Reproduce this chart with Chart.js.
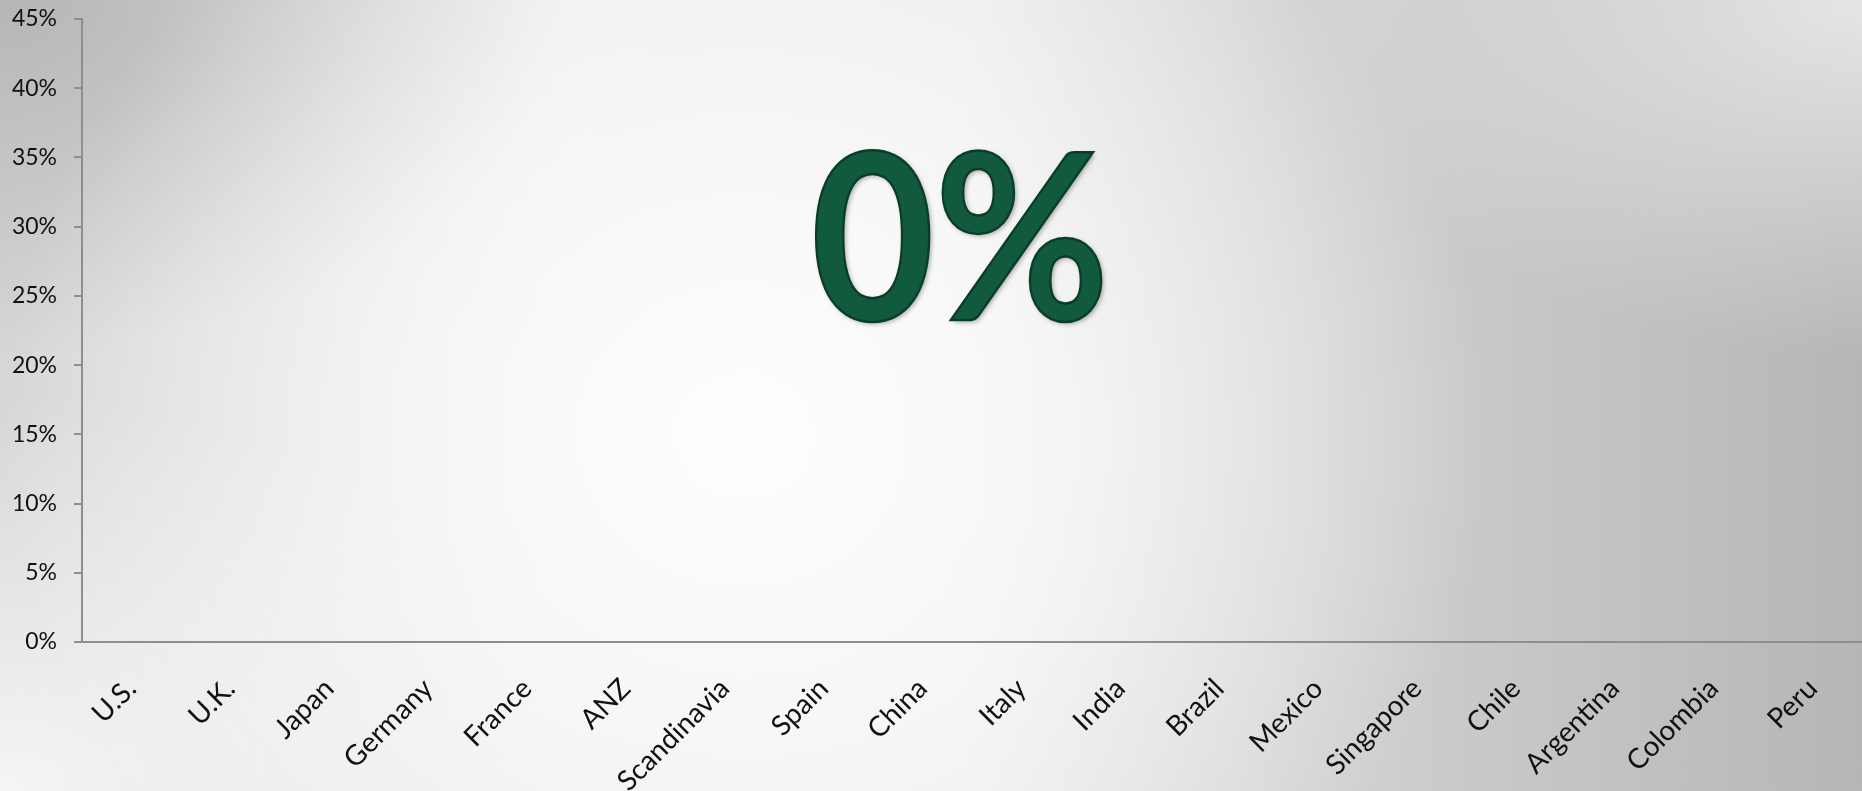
<!DOCTYPE html>
<html>
<head>
<meta charset="utf-8">
<script src="https://cdn.jsdelivr.net/npm/chart.js@4/dist/chart.umd.min.js"></script>
<style>
  html, body { margin: 0; padding: 0; width: 1862px; height: 791px; overflow: hidden; }
  body {
    background:
      radial-gradient(ellipse 40% 85% at 40% 55%, rgba(255,255,255,0.95) 0%, rgba(255,255,255,0.6) 45%, rgba(255,255,255,0) 100%),
      radial-gradient(ellipse 30% 45% at 0% 0%, rgba(180,180,180,0.95) 0%, rgba(180,180,180,0) 100%),
      radial-gradient(ellipse 32% 50% at 0% 100%, rgba(245,245,245,1) 0%, rgba(245,245,245,0) 100%),
      radial-gradient(ellipse 30% 45% at 100% 0%, rgba(232,232,232,0.95) 0%, rgba(232,232,232,0) 100%),
      linear-gradient(to right, #d6d6d6 0%, #ebebeb 30%, #eaeaea 52%, #cacaca 78%, #b6b6b6 100%);
  }
  #wrap { position: absolute; left: 0; top: 0; width: 1862px; height: 791px; }
</style>
</head>
<body>
<div id="wrap"><canvas id="chart"></canvas></div>
<script>
  const countries = ["U.S.", "U.K.", "Japan", "Germany", "France", "ANZ", "Scandinavia", "Spain", "China",
    "Italy", "India", "Brazil", "Mexico", "Singapore", "Chile", "Argentina", "Colombia", "Peru"];
  const shares = [0, 0, 0, 0, 0, 0, 0, 0, 0, 0, 0, 0, 0, 0, 0, 0, 0, 0];
  const yMax = 0.45;
  const yStep = 0.05;
  const headline = "0%";

  // big headline figure drawn over the plot
  const headlinePlugin = {
    id: "headline",
    afterDraw(chart) {
      const ctx = chart.ctx;
      ctx.save();
      ctx.translate(960, 320);
      ctx.scale(0.92, 1);
      ctx.font = "bold 232px Lato";
      ctx.textAlign = "center";
      ctx.textBaseline = "alphabetic";
      ctx.shadowColor = "rgba(0,0,0,0.35)";
      ctx.shadowBlur = 5;
      ctx.shadowOffsetX = 2;
      ctx.shadowOffsetY = 2;
      ctx.fillStyle = "#115a3e";
      ctx.fillText(headline, 0, 0);
      ctx.shadowColor = "transparent";
      ctx.lineWidth = 2.5;
      ctx.strokeStyle = "#0a3d29";
      ctx.strokeText(headline, 0, 0);
      ctx.restore();
    }
  };

  new Chart(document.getElementById("chart"), {
    type: "bar",
    data: {
      labels: countries,
      datasets: [{ data: shares, backgroundColor: "#115a3e" }]
    },
    options: {
      responsive: true,
      maintainAspectRatio: false,
      animation: false,
      layout: { padding: { top: 19, right: 0, bottom: 0, left: 0 } },
      plugins: { legend: { display: false }, tooltip: { enabled: false } },
      scales: {
        x: {
          grid: { display: false, drawTicks: false },
          border: { color: "#8e8e8e", width: 2 },
          ticks: {
            color: "#111",
            font: { family: "Lato", size: 28 },
            minRotation: 45,
            maxRotation: 45,
            autoSkip: false,
            padding: 30
          },
          afterFit(scale) {
            scale.height = 149;
            scale.paddingRight = 0;
          }
        },
        y: {
          min: 0,
          max: yMax,
          grid: { drawOnChartArea: false, drawTicks: true, tickLength: 8, color: "#8e8e8e", lineWidth: 2 },
          border: { color: "#8e8e8e", width: 2 },
          ticks: {
            stepSize: yStep,
            color: "#111",
            font: { family: "Lato", size: 23 },
            padding: 17,
            callback: (v) => Math.round(v * 100) + "%"
          },
          afterFit(scale) {
            scale.width = 82;
            scale.paddingTop = 0;
            scale.paddingBottom = 0;
          }
        }
      }
    },
    plugins: [headlinePlugin]
  });
</script>
</body>
</html>
